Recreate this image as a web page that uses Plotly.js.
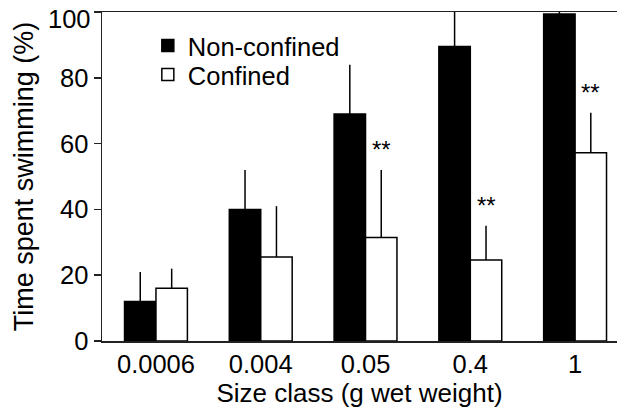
<!DOCTYPE html>
<html>
<head>
<meta charset="utf-8">
<script src="https://cdn.plot.ly/plotly-3.0.1.min.js"></script>
<style>
  html, body { margin: 0; padding: 0; background: #fff; }
  #chart { width: 617px; height: 412px; }
</style>
</head>
<body>
<div id="chart"></div>
<script>
// Size classes (g wet weight)
var sizeClasses = ['0.0006', '0.004', '0.05', '0.4', '1'];

// Mean time spent swimming (%) and upper error (%)
var nonConfined    = [12, 40, 69, 89.5, 99.4];
var nonConfinedErr = [9, 12, 15, 12, 1.5];
var confined       = [16, 25.5, 31.5, 24.6, 57.2];
var confinedErr    = [6, 15.5, 20.5, 10.4, 12.2];

// Y axis ticks
var yTicks = [0, 20, 40, 60, 80, 100];

// Size classes where confined fish differ significantly (**)
var significant = [false, false, true, true, true];

var FONT = 'Liberation Sans, Arial, sans-serif';
var TICK_SIZE = 25.5;
var TITLE_SIZE = 26;
var TICK_LEN = 7;

function zeros(n) { var a = []; for (var i = 0; i < n; i++) a.push(0); return a; }

var yMax = yTicks[yTicks.length - 1];

// The topmost tick label sits at the very top of the figure, so it is
// placed as a text nudged just under the edge; the rest come from the axis.
var yTickText = yTicks.map(function (v) { return v === yMax ? '' : String(v); });

var traces = [
  {
    type: 'bar',
    name: 'Non-confined',
    legend: 'legend',
    x: sizeClasses,
    y: nonConfined,
    marker: { color: '#000', line: { color: '#000', width: 1.5 } },
    error_y: {
      type: 'data', symmetric: false,
      array: nonConfinedErr, arrayminus: zeros(nonConfinedErr.length),
      color: '#000', thickness: 1.5, width: 0
    }
  },
  {
    type: 'bar',
    name: 'Confined',
    legend: 'legend2',
    x: sizeClasses,
    y: confined,
    marker: { color: '#fff', line: { color: '#000', width: 1.5 } },
    error_y: {
      type: 'data', symmetric: false,
      array: confinedErr, arrayminus: zeros(confinedErr.length),
      color: '#000', thickness: 1.5, width: 0
    }
  }
];

var annotations = [{
  xref: 'paper', yref: 'y',
  x: 0, y: yMax,
  text: String(yMax),
  showarrow: false,
  xanchor: 'right', yanchor: 'top',
  xshift: -(TICK_LEN + 2), yshift: 9,
  font: { family: FONT, size: TICK_SIZE, color: '#000' }
}];

// "**" markers above the confined bars' error bars
sizeClasses.forEach(function (c, i) {
  if (!significant[i]) return;
  annotations.push({
    xref: 'x', yref: 'y',
    x: i + 0.15,
    y: confined[i] + confinedErr[i],
    text: '**',
    showarrow: false,
    xanchor: 'center', yanchor: 'middle',
    yshift: 20,
    font: { family: FONT, size: 24, color: '#000' }
  });
});

function legendBox(yPos) {
  return {
    x: 0.089, y: yPos, xanchor: 'left', yanchor: 'middle',
    bgcolor: 'rgba(0,0,0,0)', borderwidth: 0,
    font: { family: FONT, size: TICK_SIZE, color: '#000' }
  };
}

var layout = {
  width: 617,
  height: 412,
  margin: { l: 102, r: 0, t: 12, b: 71 },
  paper_bgcolor: '#fff',
  plot_bgcolor: '#fff',
  font: { family: FONT, size: TICK_SIZE, color: '#000' },
  barmode: 'group',
  bargap: 0.4,
  bargroupgap: 0,
  showlegend: true,
  legend: legendBox(0.8967),
  legend2: legendBox(0.8085),
  xaxis: {
    type: 'category',
    range: [-0.515, 4.40],
    showline: true, linecolor: '#222', linewidth: 1.5,
    mirror: true,
    ticks: '',
    showgrid: false, zeroline: false,
    tickfont: { family: FONT, size: TICK_SIZE, color: '#000' },
    title: { text: 'Size class (g wet weight)', font: { family: FONT, size: TITLE_SIZE, color: '#000' }, standoff: 2 },
    automargin: false
  },
  yaxis: {
    range: [0, 100.02],
    tickmode: 'array',
    tickvals: yTicks,
    ticktext: yTickText,
    ticklabeloverflow: 'allow',
    showline: true, linecolor: '#222', linewidth: 1.5,
    ticks: 'outside', ticklen: TICK_LEN, tickwidth: 1.5, tickcolor: '#222',
    showgrid: false, zeroline: false,
    tickfont: { family: FONT, size: TICK_SIZE, color: '#000' },
    title: { text: 'Time spent swimming (%)', font: { family: FONT, size: 27, color: '#000' }, standoff: 18 },
    automargin: false
  },
  annotations: annotations
};

Plotly.newPlot('chart', traces, layout, { displayModeBar: false, staticPlot: true });
</script>
</body>
</html>
